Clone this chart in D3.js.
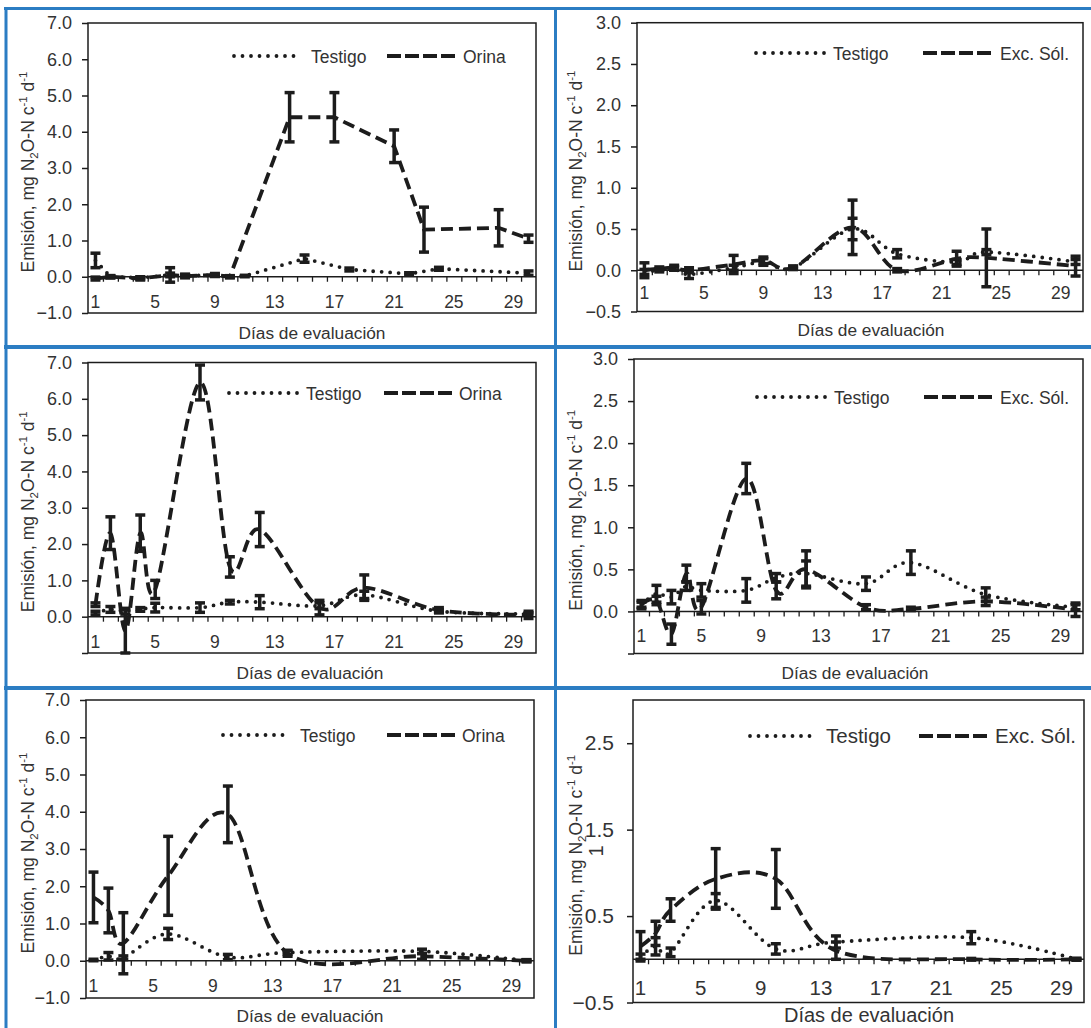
<!DOCTYPE html>
<html><head><meta charset="utf-8">
<script src="https://cdn.jsdelivr.net/npm/d3@7"></script>
<style>
body{margin:0;background:#fff}
svg{display:block}
text{font-family:"Liberation Sans",Arial,Helvetica,sans-serif;fill:#333}
</style>
</head><body>
<svg id="chart" width="1091" height="1028"></svg>
<script>
// ---------- DATA ----------
const days = d3.range(1, 31);
const xTickLabels = [1, 5, 9, 13, 17, 21, 25, 29];
const nameTestigo = "Testigo";
const nameOrina = "Orina";
const nameExc = "Exc. Sól.";
const xTitle = "Días de evaluación";

const yTicksOrina = [-1, 0, 1, 2, 3, 4, 5, 6, 7];
const yLabelsOrinaFull = [-1, 0, 1, 2, 3, 4, 5, 6, 7];
const yLabelsOrinaPos = [0, 1, 2, 3, 4, 5, 6, 7];
const yTicksExc = [-0.5, 0, 0.5, 1, 1.5, 2, 2.5, 3];
const yLabelsExcFull = [-0.5, 0, 0.5, 1, 1.5, 2, 2.5, 3];
const yLabelsExcPos = [0, 0.5, 1, 1.5, 2, 2.5, 3];
const yTicksExcAlt = [-0.5, 0.5, 1.5, 2.5];

// Panel 1 (top left)
const p1TestigoDays = [1, 2, 4, 6, 7, 9, 10, 11, 15, 18, 22, 24, 30];
const p1Testigo     = [0.45, 0.0, -0.03, 0.05, 0.03, 0.04, 0.0, 0.02, 0.5, 0.2, 0.08, 0.22, 0.1];
const p1TestigoErr  = [0.2, 0.03, 0.03, 0.05, 0.03, 0.03, 0.02, 0.02, 0.1, 0.04, 0.03, 0.04, 0.06];
const p1OrinaDays   = [1, 2, 4, 6, 7, 9, 10, 14, 17, 21, 23, 28, 30];
const p1Orina       = [-0.05, 0.0, -0.05, 0.05, 0.02, 0.05, 0.0, 4.4, 4.4, 3.6, 1.3, 1.35, 1.05];
const p1OrinaErr    = [0.04, 0.03, 0.04, 0.2, 0.05, 0.04, 0.03, 0.68, 0.68, 0.45, 0.62, 0.5, 0.1];

// Panel 2 (top right)
const p2Days        = [1, 2, 3, 4, 7, 9, 11, 15, 18, 22, 24, 30];
const p2Testigo     = [-0.02, 0.0, 0.02, -0.05, 0.03, 0.1, 0.03, 0.5, 0.2, 0.1, 0.22, 0.1];
const p2TestigoErr  = [0.03, 0.02, 0.02, 0.05, 0.03, 0.04, 0.02, 0.13, 0.05, 0.03, 0.03, 0.03];
const p2Exc         = [0.0, 0.02, 0.03, 0.0, 0.07, 0.12, 0.03, 0.52, 0.0, 0.14, 0.15, 0.05];
const p2ExcErr      = [0.09, 0.02, 0.03, 0.03, 0.11, 0.04, 0.02, 0.33, 0.02, 0.09, 0.35, 0.12];

// Panel 3 (middle left)
const p3Days        = [1, 2, 3, 4, 5, 8, 10, 12, 16, 19, 24, 30];
const p3Testigo     = [0.1, 0.2, 0.15, 0.2, 0.25, 0.25, 0.4, 0.4, 0.3, 0.6, 0.15, 0.08];
const p3TestigoErr  = [0.05, 0.08, 0.08, 0.05, 0.12, 0.13, 0.05, 0.18, 0.08, 0.1, 0.04, 0.03];
const p3Orina       = [0.33, 2.3, -0.4, 2.3, 0.75, 6.45, 1.37, 2.4, 0.25, 0.8, 0.18, 0.05];
const p3OrinaErr    = [0.05, 0.45, 0.6, 0.5, 0.25, 0.48, 0.28, 0.47, 0.2, 0.35, 0.07, 0.1];

// Panel 4 (middle right)
const p4Days        = [1, 2, 3, 4, 5, 8, 10, 12, 16, 19, 24, 30];
const p4Testigo     = [0.08, 0.21, 0.17, 0.3, 0.25, 0.25, 0.4, 0.45, 0.33, 0.58, 0.2, 0.05];
const p4TestigoErr  = [0.03, 0.1, 0.08, 0.05, 0.08, 0.14, 0.05, 0.15, 0.08, 0.14, 0.08, 0.03];
const p4Exc         = [0.08, 0.13, -0.27, 0.45, 0.05, 1.58, 0.25, 0.5, 0.05, 0.03, 0.12, 0.02];
const p4ExcErr      = [0.05, 0.05, 0.12, 0.1, 0.08, 0.18, 0.1, 0.22, 0.03, 0.02, 0.05, 0.08];

// Panel 5 (bottom left)
const p5Days        = [1, 2, 3, 6, 10, 14, 23, 30];
const p5Testigo     = [0.02, 0.12, 0.08, 0.72, 0.1, 0.22, 0.25, 0.0];
const p5TestigoErr  = [0.02, 0.1, 0.05, 0.15, 0.07, 0.05, 0.06, 0.02];
const p5Orina       = [1.7, 1.35, 0.47, 2.28, 3.93, 0.2, 0.12, 0.0];
const p5OrinaErr    = [0.68, 0.6, 0.82, 1.06, 0.76, 0.08, 0.08, 0.03];

// Panel 6 (bottom right)
const p6Days        = [1, 2, 3, 6, 10, 14, 23, 30];
const p6Testigo     = [0.03, 0.15, 0.08, 0.68, 0.12, 0.2, 0.25, 0.0];
const p6TestigoErr  = [0.03, 0.1, 0.05, 0.08, 0.06, 0.07, 0.07, 0.01];
const p6Exc         = [0.15, 0.3, 0.57, 0.93, 0.93, 0.1, 0.0, 0.0];
const p6ExcErr      = [0.17, 0.14, 0.13, 0.35, 0.34, 0.1, 0.01, 0.01];

// ---------- LAYOUT ----------
const smooth = d3.curveCardinal.tension(0);
const straight = d3.curveLinear;
const panels = [
  {left:88, right:536, top:23, bottom:313, yDomain:[-1,7], yTicks:yTicksOrina, yLabels:yLabelsOrinaFull, fmt:d3.format(".1f"),
   a:{days:p1TestigoDays, v:p1Testigo, e:p1TestigoErr}, b:{days:p1OrinaDays, v:p1Orina, e:p1OrinaErr}, bName:nameOrina,
   curve:straight, fs:17.5, xLabY:308, xTitleX:312, xTitleY:339, yTitleX:34,
   leg:{d1:234, d2:302, t1:311, s1:387, s2:457, t2:463, y:56}},
  {left:637, right:1083, top:22.7, bottom:311.5, yDomain:[-0.5,3], yTicks:yTicksExc, yLabels:yLabelsExcFull, fmt:d3.format(".1f"),
   a:{days:p2Days, v:p2Testigo, e:p2TestigoErr}, b:{days:p2Days, v:p2Exc, e:p2ExcErr}, bName:nameExc,
   curve:smooth, fs:17.5, xLabY:299, xTitleX:871, xTitleY:336, yTitleX:582,
   leg:{d1:756, d2:826, t1:833, s1:923, s2:993, t2:1000, y:53}},
  {left:88, right:536, top:362.5, bottom:653, yDomain:[-1,7], yTicks:yTicksOrina, yLabels:yLabelsOrinaPos, fmt:d3.format(".1f"),
   a:{days:p3Days, v:p3Testigo, e:p3TestigoErr}, b:{days:p3Days, v:p3Orina, e:p3OrinaErr}, bName:nameOrina,
   curve:smooth, fs:17.5, xLabY:648, xTitleX:310, xTitleY:679, yTitleX:34,
   leg:{d1:229, d2:299, t1:306, s1:384, s2:454, t2:459, y:393}},
  {left:634, right:1083, top:359, bottom:653.5, yDomain:[-0.5,3], yTicks:yTicksExc, yLabels:yLabelsExcPos, fmt:d3.format(".1f"),
   a:{days:p4Days, v:p4Testigo, e:p4TestigoErr}, b:{days:p4Days, v:p4Exc, e:p4ExcErr}, bName:nameExc,
   curve:smooth, fs:17.5, xLabY:642, xTitleX:855, xTitleY:679, yTitleX:582,
   leg:{d1:757, d2:826, t1:834, s1:924, s2:993, t2:1000, y:397}},
  {left:86, right:534, top:700, bottom:998, yDomain:[-1,7], yTicks:yTicksOrina, yLabels:yLabelsOrinaFull, fmt:d3.format(".1f"),
   a:{days:p5Days, v:p5Testigo, e:p5TestigoErr}, b:{days:p5Days, v:p5Orina, e:p5OrinaErr}, bName:nameOrina,
   curve:smooth, fs:17.5, xLabY:992, xTitleX:310, xTitleY:1022, yTitleX:34,
   leg:{d1:223, d2:284, t1:300, s1:387, s2:455, t2:462, y:735}},
  {left:633, right:1084, top:700, bottom:1002.5, yDomain:[-0.5,3], yTicks:yTicksExcAlt, yLabels:yTicksExcAlt, fmt:d3.format(".1f"),
   a:{days:p6Days, v:p6Testigo, e:p6TestigoErr}, b:{days:p6Days, v:p6Exc, e:p6ExcErr}, bName:nameExc,
   curve:smooth, fs:20.5, xLabY:995, xTitleX:869, xTitleY:1022, yTitleX:582, extraOne:true,
   leg:{d1:750, d2:810, t1:826, s1:919, s2:988, t2:995, y:736}}
];

const ink = "#1c1c1c";
const blue = "#2b7dc3";
const dotDash = "0 8.5";
const longDash = "12 6";

const svg = d3.select("#chart");
svg.append("rect").attr("width",1091).attr("height",1028).attr("fill","#fff");

panels.forEach(p => {
  const g = svg.append("g");
  const x = d3.scaleLinear().domain([0.5, 30.5]).range([p.left, p.right]);
  const y = d3.scaleLinear().domain(p.yDomain).range([p.bottom, p.top]);

  // plot box
  g.append("rect").attr("x",p.left).attr("y",p.top).attr("width",p.right-p.left).attr("height",p.bottom-p.top)
    .attr("fill","none").attr("stroke",ink).attr("stroke-width",1.5);

  // y axis ticks + labels
  const ya = d3.axisLeft(y).tickValues(p.yTicks).tickSize(6)
    .tickFormat(d => p.yLabels.includes(d) ? p.fmt(d) : "");
  const yg = g.append("g").attr("transform",`translate(${p.left},0)`).call(ya);
  yg.select(".domain").remove();
  yg.selectAll(".tick line").attr("stroke",ink).attr("stroke-width",1.5);
  yg.selectAll(".tick text").attr("x",-(p.fs>19?19:16)).attr("font-size",p.fs+0.5).attr("fill","#333").attr("font-family",null);

  // x axis at zero with boundary ticks
  const xa = d3.axisBottom(x).tickValues(d3.range(1.5, 30, 1)).tickSize(5).tickFormat("");
  const xg = g.append("g").attr("transform",`translate(0,${y(0)})`).call(xa);
  xg.select(".domain").attr("stroke",ink).attr("stroke-width",1.5).attr("d",`M${p.left},0H${p.right}`);
  xg.selectAll(".tick line").attr("stroke",ink).attr("stroke-width",1.3);

  // x labels (low position)
  g.selectAll(".xl").data(xTickLabels).enter().append("text")
    .attr("x", d => x(d)).attr("y", p.xLabY).attr("text-anchor","middle")
    .attr("font-size", p.fs).text(d => d);

  // x title
  g.append("text").attr("x",p.xTitleX).attr("y",p.xTitleY).attr("text-anchor","middle")
    .attr("font-size", p.fs>19?20:17.3).text(xTitle);

  // y title
  const cy = (p.top + p.bottom)/2 + 4;
  const yt = g.append("text").attr("transform",`translate(${p.yTitleX},${cy}) rotate(-90)`)
    .attr("text-anchor","middle").attr("font-size",17.5);
  yt.append("tspan").text("Emisión, mg N");
  yt.append("tspan").attr("font-size",11.5).attr("dy",4).text("2");
  yt.append("tspan").attr("dy",-4).text("O-N c");
  yt.append("tspan").attr("font-size",11.5).attr("dy",-7).text("-1");
  yt.append("tspan").attr("dy",7).text(" d");
  yt.append("tspan").attr("font-size",11.5).attr("dy",-7).text("-1");
  if (p.extraOne) {
    g.append("text").attr("transform",`translate(603,851) rotate(-90)`).attr("text-anchor","middle")
      .attr("font-size",20).text("1");
  }

  const line = d3.line().x(d => x(d[0])).y(d => y(d[1])).curve(p.curve);
  const drawSeries = (s, dash, width, cap) => {
    const pts = s.days.map((d,i) => [d, s.v[i], s.e[i]]);
    g.append("path").datum(pts).attr("d", line).attr("fill","none").attr("stroke",ink)
      .attr("stroke-width",width).attr("stroke-dasharray",dash).attr("stroke-linecap",cap);
    const eb = g.append("g");
    pts.forEach(q => {
      const xx = x(q[0]), y1 = y(q[1]-q[2]), y2 = y(q[1]+q[2]);
      eb.append("line").attr("x1",xx).attr("x2",xx).attr("y1",y1).attr("y2",y2).attr("stroke",ink).attr("stroke-width",3.5);
      [y1,y2].forEach(yy => eb.append("line").attr("x1",xx-5).attr("x2",xx+5).attr("y1",yy).attr("y2",yy)
        .attr("stroke",ink).attr("stroke-width",3.5));
    });
  };
  drawSeries(p.a, dotDash, 3.8, "round");
  drawSeries(p.b, longDash, 3.8, "butt");

  // legend
  const L = p.leg;
  g.append("line").attr("x1",L.d1).attr("x2",L.d2).attr("y1",L.y).attr("y2",L.y).attr("stroke",ink)
    .attr("stroke-width",3.8).attr("stroke-dasharray",dotDash).attr("stroke-linecap","round");
  g.append("text").attr("x",L.t1).attr("y",L.y+6.5).attr("font-size",p.fs).text(nameTestigo);
  g.append("line").attr("x1",L.s1).attr("x2",L.s2).attr("y1",L.y).attr("y2",L.y).attr("stroke",ink)
    .attr("stroke-width",4).attr("stroke-dasharray","14 4");
  g.append("text").attr("x",L.t2).attr("y",L.y+6.5).attr("font-size",p.fs).text(p.bName);
});

// blue frame lines
const frame = svg.append("g").attr("stroke",blue);
frame.append("line").attr("x1",4).attr("x2",1091).attr("y1",8.5).attr("y2",8.5).attr("stroke-width",3);
frame.append("line").attr("x1",6).attr("x2",6).attr("y1",7).attr("y2",1028).attr("stroke-width",3);
frame.append("line").attr("x1",555.5).attr("x2",555.5).attr("y1",7).attr("y2",1028).attr("stroke-width",3);
frame.append("line").attr("x1",4).attr("x2",1091).attr("y1",347).attr("y2",347).attr("stroke-width",4);
frame.append("line").attr("x1",4).attr("x2",1091).attr("y1",688).attr("y2",688).attr("stroke-width",4);
</script>
</body></html>
